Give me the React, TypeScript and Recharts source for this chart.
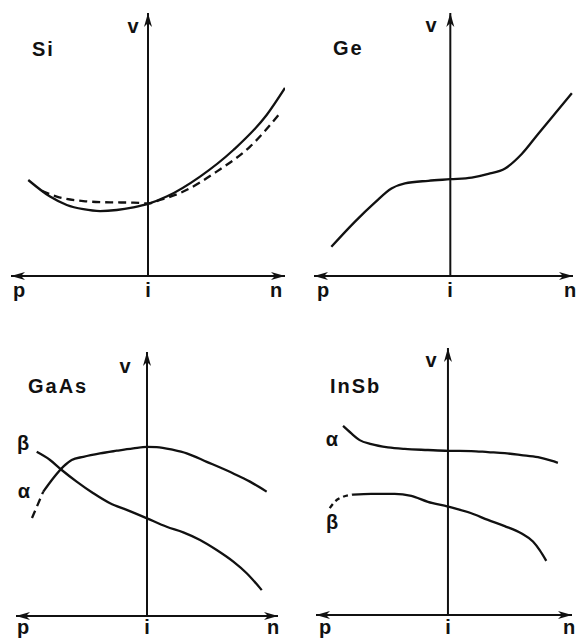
import { LineChart, Line, XAxis, YAxis, ReferenceLine } from "recharts";

// Horizontal axis: -1 = p, 0 = i, +1 = n. Vertical axis: v, 0..1 (arrow tip = 1).
const INK = "#111";

// Si
const siSolidX = [-0.874, -0.715, -0.593, -0.472, -0.35, -0.228, -0.107, 0, 0.136, 0.38, 0.623, 0.866, 1.0];
const siSolidV = [0.365, 0.302, 0.27, 0.254, 0.247, 0.251, 0.261, 0.274, 0.302, 0.378, 0.479, 0.612, 0.715];
const siDashX = [-0.776, -0.666, -0.472, -0.277, -0.107, 0, 0.088, 0.258, 0.501, 0.745, 0.964];
const siDashV = [0.324, 0.302, 0.285, 0.28, 0.279, 0.276, 0.289, 0.321, 0.397, 0.492, 0.619];

// Ge
const geX = [-0.873, -0.701, -0.554, -0.432, -0.333, -0.162, 0, 0.157, 0.279, 0.402, 0.524, 0.647, 0.77, 0.892];
const geV = [0.111, 0.206, 0.279, 0.333, 0.352, 0.362, 0.368, 0.374, 0.388, 0.409, 0.464, 0.542, 0.619, 0.695];

// GaAs
const gaasAlphaDashX = [-0.878, -0.792];
const gaasAlphaDashV = [0.371, 0.471];
const gaasAlphaX = [-0.792, -0.716, -0.639, -0.575, -0.486, -0.359, -0.231, -0.105, 0, 0.074, 0.201, 0.303, 0.456, 0.659, 0.786, 0.913];
const gaasAlphaV = [0.471, 0.522, 0.566, 0.591, 0.603, 0.616, 0.626, 0.635, 0.641, 0.64, 0.629, 0.616, 0.584, 0.54, 0.509, 0.471];
const gaasBetaX = [-0.842, -0.74, -0.651, -0.537, -0.41, -0.282, -0.155, 0, 0.15, 0.277, 0.405, 0.532, 0.659, 0.761, 0.876];
const gaasBetaV = [0.622, 0.591, 0.553, 0.509, 0.465, 0.427, 0.402, 0.37, 0.338, 0.317, 0.288, 0.25, 0.206, 0.162, 0.098];

// InSb
const insbAlphaX = [-0.795, -0.732, -0.669, -0.581, -0.455, -0.328, -0.152, 0, 0.177, 0.303, 0.43, 0.555, 0.682, 0.783, 0.833];
const insbAlphaV = [0.708, 0.68, 0.655, 0.64, 0.628, 0.622, 0.618, 0.615, 0.614, 0.61, 0.606, 0.599, 0.591, 0.578, 0.57];
const insbBetaDashX = [-0.896, -0.858, -0.795, -0.72];
const insbBetaDashV = [0.4, 0.424, 0.443, 0.451];
const insbBetaX = [-0.72, -0.581, -0.404, -0.278, -0.152, 0, 0.177, 0.303, 0.43, 0.555, 0.644, 0.695, 0.745];
const insbBetaV = [0.451, 0.454, 0.454, 0.446, 0.424, 0.406, 0.381, 0.356, 0.333, 0.306, 0.275, 0.243, 0.203];

const zip = (xs: number[], vs: number[]) => xs.map((x, i) => ({ x, v: vs[i] }));

type Series = { data: { x: number; v: number }[]; dash?: string };
type Box = { left: number; right: number; top: number; bottom: number };

const W = 576;
const H = 639;

function arrowHead(tx: number, ty: number, dx: number, dy: number) {
  const len = 14;
  const half = 4;
  const notch = 10;
  const px = -dy;
  const py = dx;
  const bx = tx - dx * len;
  const by = ty - dy * len;
  const nx = tx - dx * notch;
  const ny = ty - dy * notch;
  return `M${tx},${ty} L${bx + px * half},${by + py * half} L${nx},${ny} L${bx - px * half},${by - py * half} Z`;
}

const axisShape = (both: boolean) => (props: any) => {
  const { x1, y1, x2, y2 } = props;
  const len = Math.hypot(x2 - x1, y2 - y1) || 1;
  const dx = (x2 - x1) / len;
  const dy = (y2 - y1) / len;
  return (
    <g>
      <line x1={x1} y1={y1} x2={x2} y2={y2} stroke={INK} strokeWidth={2} />
      <path d={arrowHead(x2, y2, dx, dy)} fill={INK} />
      {both && <path d={arrowHead(x1, y1, -dx, -dy)} fill={INK} />}
    </g>
  );
};

function Panel({ box, xMax, series }: { box: Box; xMax: number; series: Series[] }) {
  return (
    <div style={{ position: "absolute", left: 0, top: 0 }}>
      <LineChart
        width={W}
        height={H}
        margin={{ top: box.top, left: box.left, right: W - box.right, bottom: H - box.bottom }}
      >
        <XAxis type="number" dataKey="x" domain={[-1, xMax]} hide allowDataOverflow />
        <YAxis type="number" dataKey="v" domain={[0, 1]} hide allowDataOverflow />
        <ReferenceLine segment={[{ x: -1, y: 0 }, { x: xMax, y: 0 }]} shape={axisShape(true)} />
        <ReferenceLine segment={[{ x: 0, y: 0 }, { x: 0, y: 1 }]} shape={axisShape(false)} />
        {series.map((s, i) => (
          <Line
            key={i}
            data={s.data}
            dataKey="v"
            type="monotone"
            stroke={INK}
            strokeWidth={2.3}
            strokeDasharray={s.dash}
            dot={false}
            activeDot={false}
            isAnimationActive={false}
          />
        ))}
      </LineChart>
    </div>
  );
}

const font = {
  fontFamily: "'Liberation Sans', Arial, sans-serif",
  fontWeight: 700,
  fontSize: 20,
  fill: INK,
};

// [text, x, baseline y, anchor, letter spacing]
const labels: [string, number, number, "start" | "middle", number][] = [
  ["Si", 32, 56, "start", 2],
  ["Ge", 333, 55, "start", 2],
  ["GaAs", 28, 393, "start", 2],
  ["InSb", 330, 393, "start", 2],
  ["v", 133, 33, "middle", 0],
  ["v", 431, 32, "middle", 0],
  ["v", 125, 373, "middle", 0],
  ["v", 431, 367, "middle", 0],
  ["p", 19, 297, "middle", 0],
  ["i", 148, 297, "middle", 0],
  ["n", 276, 297, "middle", 0],
  ["p", 323, 297, "middle", 0],
  ["i", 450, 297, "middle", 0],
  ["n", 570, 297, "middle", 0],
  ["p", 23, 634, "middle", 0],
  ["i", 147, 634, "middle", 0],
  ["n", 273, 634, "middle", 0],
  ["p", 325, 634, "middle", 0],
  ["i", 448, 634, "middle", 0],
  ["n", 569, 634, "middle", 0],
  ["β", 23, 450, "middle", 0],
  ["α", 24, 498, "middle", 0],
  ["α", 332, 446, "middle", 0],
  ["β", 332, 529, "middle", 0],
];

export default function App() {
  return (
    <div style={{ position: "absolute", left: 0, top: 0, width: W, height: H, background: "#fff", overflow: "hidden" }}>
      <Panel
        box={{ left: 11, right: 285, top: 13, bottom: 276 }}
        xMax={1}
        series={[{ data: zip(siSolidX, siSolidV) }, { data: zip(siDashX, siDashV), dash: "8 5" }]}
      />
      <Panel box={{ left: 314, right: 573, top: 13, bottom: 276 }} xMax={0.9} series={[{ data: zip(geX, geV) }]} />
      <Panel
        box={{ left: 16, right: 278, top: 352, bottom: 616 }}
        xMax={1}
        series={[
          { data: zip(gaasAlphaDashX, gaasAlphaDashV), dash: "8 5" },
          { data: zip(gaasAlphaX, gaasAlphaV) },
          { data: zip(gaasBetaX, gaasBetaV) },
        ]}
      />
      <Panel
        box={{ left: 316, right: 572, top: 348, bottom: 615 }}
        xMax={0.94}
        series={[
          { data: zip(insbAlphaX, insbAlphaV) },
          { data: zip(insbBetaDashX, insbBetaDashV), dash: "5 4" },
          { data: zip(insbBetaX, insbBetaV) },
        ]}
      />
      <svg width={W} height={H} style={{ position: "absolute", left: 0, top: 0, pointerEvents: "none" }}>
        {labels.map(([t, x, y, anchor, ls], i) => (
          <text key={i} x={x} y={y} textAnchor={anchor} letterSpacing={ls} {...font}>
            {t}
          </text>
        ))}
      </svg>
    </div>
  );
}
